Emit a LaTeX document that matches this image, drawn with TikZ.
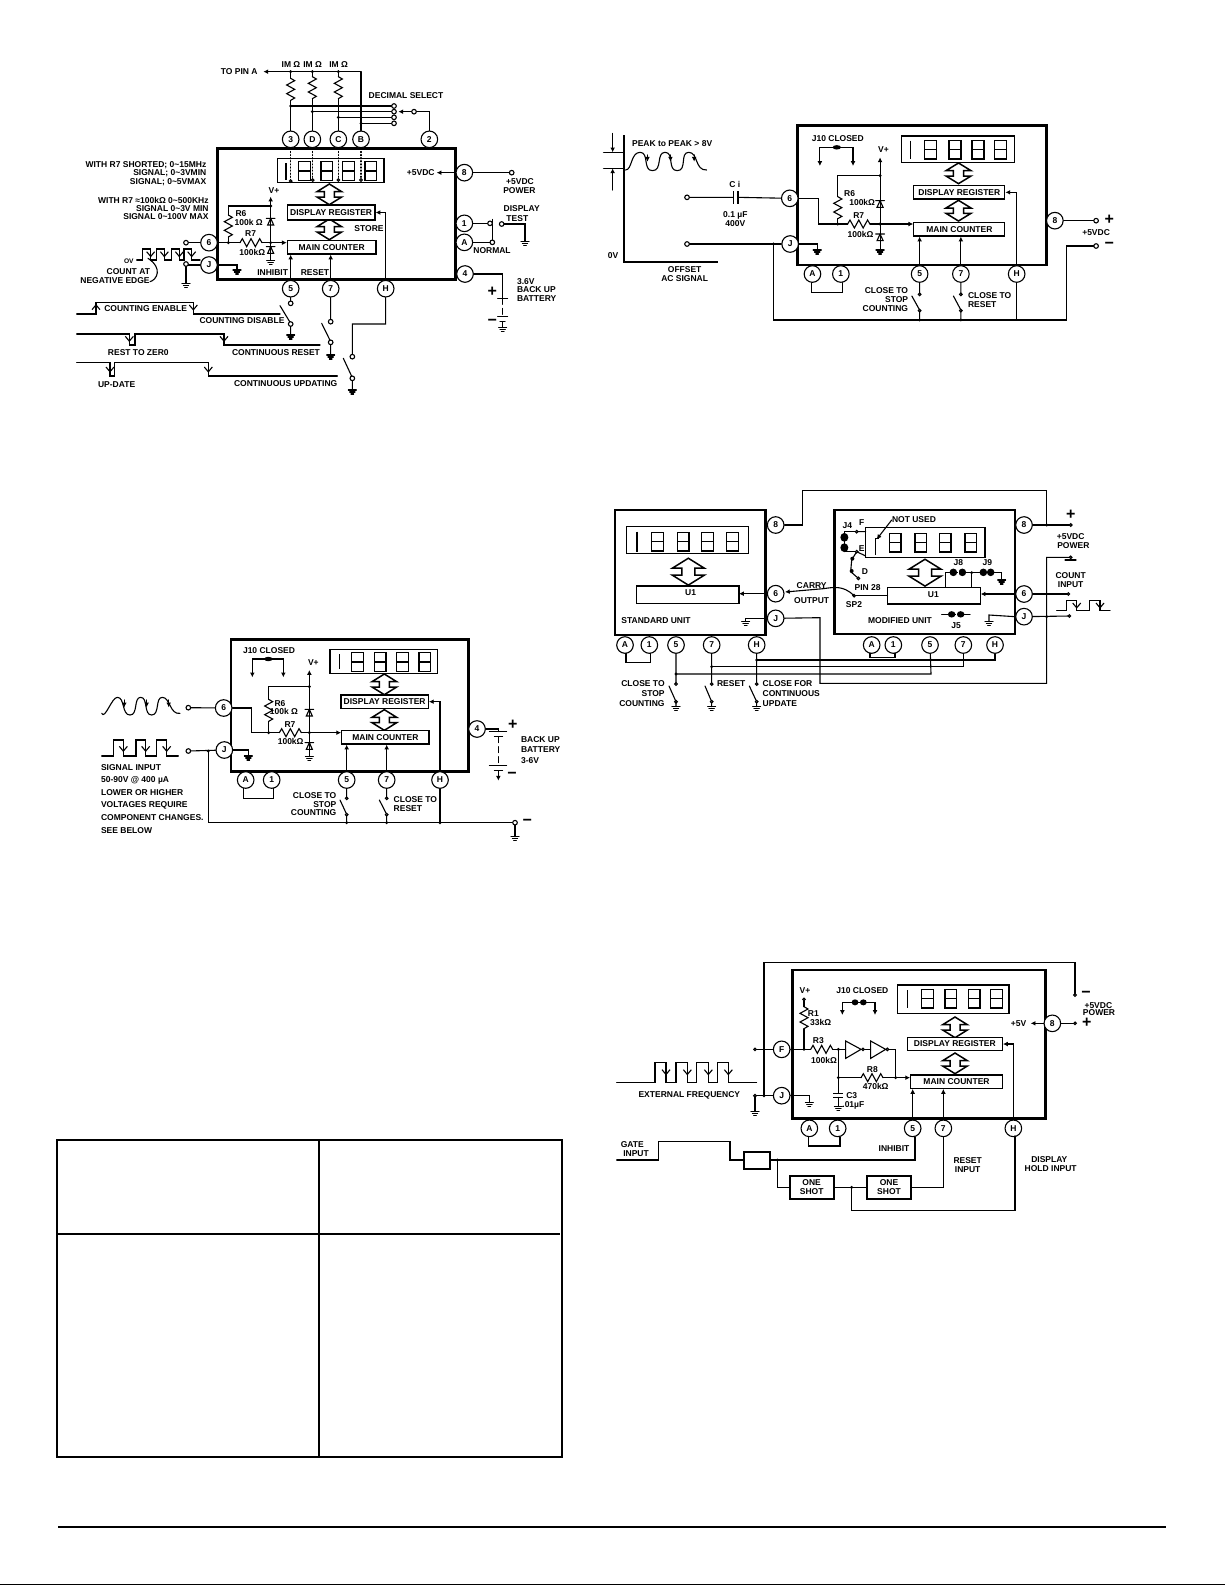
\documentclass[tikz,border=0pt]{standalone}
\usepackage{fontspec}
\setmainfont{Liberation Sans}
\usetikzlibrary{arrows.meta,fit}
\def\pdot(#1){\fill (#1) circle (0.8pt);}
\def\pterm(#1){\filldraw[wire,fill=white] (#1) circle (1.15pt);}
\def\psm(#1){\filldraw[wire,fill=white] (#1) circle (0.65pt);}
\def\pgnd(#1){\pic at (#1) {gndp};}
\def\prv(#1){\pic at (#1) {rvp};}
\def\prh(#1){\pic at (#1) {rhp};}
\def\pdio(#1){\pic at (#1) {diop};}
\def\pdbl(#1){\pic at (#1) {dblp};}
\def\pdig(#1){\pic at (#1) {digp};}
\def\pblob(#1){\fill (#1) ellipse (2.1pt and 1.1pt);}
\newcommand\bx[6]{\node[lbox,fit={(#2,#3)(#4,#5)}] (#1) {}; \node[txt] (#1t) at (#1.center) {#6};}
\tikzset{
  wire/.style={line width=0.55pt,line cap=round,line join=miter},
  arr/.style={wire,-{Latex[length=2.4pt,width=2.4pt]}},
  barb/.style={wire,-{Straight Barb[length=2.4pt,width=4pt]}},
  heavy/.style={line width=1.35pt},
  txt/.style={font=\fontsize{4.25}{4.5}\selectfont\bfseries,inner sep=0pt,align=center},
  txl/.style={txt,anchor=west,align=left},
  txr/.style={txt,anchor=east,align=right},
  pinc/.style={circle,draw,fill=white,line width=0.55pt,minimum size=8.3pt,inner sep=0pt,font=\fontsize{4.25}{4.5}\selectfont\bfseries},
  lbox/.style={draw,fill=white,line width=0.6pt,inner sep=0pt},
  gndp/.pic={\draw[wire] (-12,0)--(12,0) (-8,6)--(8,6) (-4,12)--(4,12);},
  rvp/.pic={\draw[wire] (0,0)--(12,7)--(-12,20)--(12,33)--(-12,46)--(12,59)--(0,66);},
  rhp/.pic={\draw[wire] (0,0)--(7,-12)--(20,12)--(33,-12)--(46,12)--(59,-12)--(66,0);},
  diop/.pic={\draw[wire] (-13,0)--(13,0) (0,0)--(-9,20)--(9,20)--cycle;},
  dblp/.pic={\filldraw[fill=white,line width=0.75pt] (0,-31)--(37,-8)--(15,-8)--(15,8)--(37,8)--(0,31)--(-37,8)--(-15,8)--(-15,-8)--(-37,-8)--cycle;},
  digp/.pic={\draw[line width=0.65pt] (0,0) rectangle (35,56) (0,28)--(35,28);},
  sc1/.style={x=0.16667pt,y=-0.16667pt},
  sc2/.style={x=0.16903pt,y=-0.16667pt}
}
\begin{document}
\begin{tikzpicture}[x=0.5pt,y=-0.5pt]
\useasboundingbox (0,0) rectangle (1225,1585);
\fill[white] (0,0) rectangle (1225,1585);
% ---------------- table and page rules
\draw[line width=1pt] (57,1140) rectangle (562,1457);
\draw[line width=1pt] (318.5,1140) -- (318.5,1457);
\draw[line width=1pt] (57,1234) -- (560,1234);
\draw[line width=1pt] (58,1527) -- (1166,1527);
\draw[line width=0.5pt] (0,1584.5) -- (1225,1584.5);
% ---------------- panel 1
\begin{scope}[shift={(60,50)},sc1]
\draw[heavy,fill=white] (473,295) rectangle (1187,688);
\node[pinc] (a3) at (692,268) {3};
\node[pinc] (aD) at (757,268) {D};
\node[pinc] (aC) at (835,268) {C};
\node[pinc] (aB) at (903,268) {B};
\node[pinc] (a2) at (1108,268) {2};
\node[pinc] (a8) at (1213,368) {8};
\node[pinc] (a1) at (1213,520) {1};
\node[pinc] (aA) at (1213,577) {A};
\node[pinc] (a4) at (1215,672) {4};
\node[pinc] (a6) at (447,578) {6};
\node[pinc] (aJ) at (447,645) {J};
\node[pinc] (a5) at (692,716) {5};
\node[pinc] (a7) at (812,716) {7};
\node[pinc] (aH) at (977,716) {H};
\draw[wire] (653,325) rectangle (972,398);
\draw[line width=0.65pt] (678,340)--(678,390);
\pdig(716,335)\pdig(783,335)\pdig(848,335)\pdig(915,335)
\draw[wire,densely dotted] (692,295)--(692,393) (757,295)--(757,390) (835,295)--(835,390) (903,295)--(903,390);
\psm(692,393)\psm(758,390)\psm(835,390)\psm(903,390)
\pdbl(808,433)\pdbl(808,538)
\bx{areg}{682}{465}{945}{510}{DISPLAY REGISTER}
\bx{amc}{682}{572}{948}{612}{MAIN COUNTER}
% top resistors
\node[txr] (apina) at (594,65) {TO PIN A};
\coordinate (abt) at (903,65);
\draw[arr] (abt) -- (610,65);
\node[txt] at (693,43) {IM Ω};
\node[txt] at (758,43) {IM Ω};
\node[txt] at (836,43) {IM Ω};
\draw[wire] (692,65)--(692,85) (692,151)--(a3);
\draw[wire] (757,65)--(757,80) (757,146)--(aD);
\draw[wire] (835,65)--(835,80) (835,146)--(aC);
\draw[wire] (abt)--(aB);
\prv(692,85)\prv(757,80)\prv(835,80)
\draw[wire] (692,168)--(1002,168) (757,185)--(1002,185) (835,202)--(1002,202) (903,220)--(1002,220);
\pdot(692,65)\pdot(757,65)\pdot(835,65)\pdot(692,168)\pdot(757,185)\pdot(835,202)\pdot(903,220)
\pterm(1002,168)\pterm(1002,185)\pterm(1002,202)\pterm(1002,220)
\node[txt] at (1038,138) {DECIMAL SELECT};
\coordinate (asel) at (1062,185);
\draw[arr] (asel) -- (1015,185);
\draw[wire] (asel) -| (a2);
\pterm(1062,185)
% input network
\node[txt] at (642,422) {V+};
\coordinate (avp) at (632,440);
\draw[arr] (632,630) -- (avp);
\pgnd(632,632)
\pdio(632,505)\pdio(632,590)
\draw[wire] (632,468) -| (505,495);
\prv(505,495)
\draw[wire] (505,561)--(505,578);
\draw[wire] (a6)--(540,578) (606,578)--(632,578);
\prh(540,578)
\draw[arr] (632,578)--(amc.west|-0,578);
\pdot(632,468)\pdot(632,578)\pdot(505,578)
\node[txt] at (543,490) {R6};
\node[txt] at (566,516) {100k Ω};
\node[txt] at (572,552) {R7};
\node[txt] at (577,606) {100kΩ};
\draw[wire] (aJ) -| (531,660);
\pgnd(531,660)
\draw[wire] (a6) -- (378,578);
\pterm(378,578)
\draw[wire] (aJ) -- (378,645) -- (378,700);
\pgnd(378,700)
\pterm(378,642)
\node[txr] at (222,633) {\fontsize{3.3}{3.5}\selectfont OV};
\draw[wire] (230,630)--(248,630)--(248,597)--(272,597)--(272,630)--(290,630)--(290,597)--(313,597)--(313,630)--(335,630)--(335,597)--(358,597)--(358,630)--(372,630)--(372,597)--(395,597)--(395,630)--(420,630);
\draw[barb] (272,600)--(272,622);
\draw[barb] (313,600)--(313,622);
\draw[barb] (358,600)--(358,622);
\draw[barb] (395,600)--(395,622);
\draw[wire] (264,625) .. controls (310,655) and (290,690) .. (270,695);
\node[txt] at (205,665) {COUNT AT};
\node[txt] at (165,692) {NEGATIVE EDGE};
\node[txr] at (440,345) {WITH R7 SHORTED; 0\textasciitilde15MHz};
\node[txr] at (440,371) {SIGNAL; 0\textasciitilde3VMIN};
\node[txr] at (440,396) {SIGNAL; 0\textasciitilde5VMAX};
\node[txr] at (447,450) {WITH R7 ≈100kΩ 0\textasciitilde500KHz};
\node[txr] at (447,475) {SIGNAL 0\textasciitilde3V MIN};
\node[txr] at (447,500) {SIGNAL 0\textasciitilde100V MAX};
% right side
\draw[arr] (a8) -- (1130,368);
\node[txr] at (1125,368) {+5VDC};
\coordinate (apw) at (1355,368);
\draw[wire] (a8)--(apw);
\pterm(1355,368)
\node[txt] at (1380,394) {+5VDC};
\node[txt] at (1378,421) {POWER};
\coordinate (at1) at (1290,520);
\coordinate (an) at (1297,577);
\draw[wire] (a1)--(at1);
\draw[wire] (aA)--(an);
\draw[wire] (1297,508)--(an);
\pterm(1290,520)\pterm(1297,577)
\coordinate (at2) at (1325,522);
\draw[wire] (at2) -| (1395,575);
\pterm(1325,522)
\pgnd(1395,575)
\node[txt] at (1385,475) {DISPLAY};
\node[txt] at (1372,506) {TEST};
\node[txt] at (1296,602) {NORMAL};
\draw[wire] (a4) -| (1328,745);
\draw[wire] (1313,745)--(1343,745) (1313,800)--(1343,800) (1320,815)--(1335,815);
\draw[wire,densely dashed] (1328,745)--(1328,800);
\draw[wire] (1328,815)--(1328,832);
\pgnd(1328,832)
\node[txt,font=\fontsize{8}{8}\selectfont\bfseries] at (1297,725) {+};
\node[txt,font=\fontsize{8}{8}\selectfont\bfseries] at (1297,818) {−};
\node[txl] at (1370,695) {3.6V};
\node[txl] at (1370,720) {BACK UP};
\node[txl] at (1370,745) {BATTERY};
% bottom
\draw[arr] (a5) -- (a5|-amc.south);
\draw[arr] (a7) -- (a7|-amc.south);
\draw[arr] (aH) |- (areg.east);
\node[txr] at (685,668) {INHIBIT};
\node[txt] at (765,668) {RESET};
\node[txt] at (927,535) {STORE};
\draw[wire] (a5)--(692,760) (660,767)--(692,820) (692,822)--(692,855);
\pterm(692,760)\pterm(692,822)\pgnd(692,855)
\draw[wire] (a7)--(812,815) (785,820)--(812,875) (812,877)--(812,915);
\pterm(812,815)\pterm(812,877)\pgnd(812,915)
\draw[wire] (aH)--(977,822)--(877,822)--(877,920) (850,925)--(877,983) (877,985)--(877,1020);
\pterm(877,920)\pterm(877,985)\pgnd(877,1020)
\draw[wire] (50,792)--(108,792)--(108,757)--(400,757)--(400,792)--(660,792);
\draw[barb] (108,785)--(108,762);
\draw[barb] (400,760)--(400,782);
\node[txt] at (257,775) {COUNTING ENABLE};
\node[txt] at (546,813) {COUNTING DISABLE};
\draw[wire] (50,852)--(208,852)--(208,885)--(225,885)--(225,852)--(492,852)--(492,885)--(780,885);
\draw[barb] (208,856)--(208,876);
\draw[barb] (492,856)--(492,876);
\node[txt] at (235,908) {REST TO ZER0};
\node[txt] at (648,908) {CONTINUOUS RESET};
\draw[wire] (50,938)--(150,938)--(150,978)--(163,978)--(163,938)--(445,938)--(445,978)--(832,978);
\draw[barb] (150,942)--(150,968);
\draw[barb] (445,942)--(445,968);
\node[txt] at (170,1003) {UP-DATE};
\node[txt] at (677,1000) {CONTINUOUS UPDATING};
\end{scope}
% ---------------- panel 2
\begin{scope}[shift={(590,110)},sc2]
\draw[heavy,fill=white] (614,47) rectangle (1350,465);
\node[pinc] (b6) at (591,265) {6};
\node[pinc] (bJ) at (592,402) {J};
\node[pinc] (b8) at (1375,332) {8};
\node[pinc] (bA) at (658,492) {A};
\node[pinc] (b1) at (742,492) {1};
\node[pinc] (b5) at (975,492) {5};
\node[pinc] (b7) at (1097,492) {7};
\node[pinc] (bH) at (1262,492) {H};
\draw[wire] (922,78) rectangle (1255,157);
\draw[line width=0.65pt] (948,92)--(948,147);
\pdig(990,91)\pdig(1062,91)\pdig(1130,91)\pdig(1197,91)
\pdbl(1090,190)\pdbl(1090,302)
\bx{breg}{958}{227}{1227}{267}{DISPLAY REGISTER}
\bx{bmc}{958}{338}{1227}{378}{MAIN COUNTER}
\node[txt] at (733,86) {J10 CLOSED};
\draw[arr] (730,112) -| (680,168);
\draw[arr] (730,112) -| (778,168);
\pblob(730,112)
\node[txt] at (868,120) {V+};
\coordinate (bvp) at (858,142);
\draw[arr] (858,420) -- (bvp);
\pgnd(858,420)
\pdio(858,272)\pdio(858,372)
\draw[wire] (858,197) -| (733,260);
\prv(733,260)
\draw[wire] (733,326)--(733,342);
\draw[wire] (b6) -- (677,265) -- (677,342) -- (762,342) (828,342)--(858,342);
\prh(762,342)
\draw[arr] (858,342) -- (bmc.west|-0,342);
\pdot(858,197)\pdot(858,342)\pdot(733,342)
\node[txt] at (768,250) {R6};
\node[txt] at (805,276) {100kΩ};
\node[txt] at (795,317) {R7};
\node[txt] at (800,372) {100kΩ};
\draw[wire] (bJ) -| (672,420);
\pgnd(672,420)
\coordinate (bi1) at (287,262);
\coordinate (bi2) at (287,402);
\draw[wire] (bi1)--(424,262) (438,262)--(b6);
\draw[line width=0.75pt] (424,243)--(424,281) (438,243)--(438,281);
\pterm(287,262)
\draw[wire] (bi2)--(bJ);
\pterm(287,402)
\pdot(543,402)
\node[txt] at (428,222) {C i};
\node[txt] at (430,315) {0.1 µF};
\node[txt] at (430,342) {400V};
\draw[line width=0.9pt] (100,75)--(100,455)--(378,455);
\draw[arr] (67,70)--(67,127);
\draw[arr] (67,240)--(67,175);
\draw[wire] (40,127)--(100,127) (40,175)--(100,175);
\draw[wire] (105,180) .. controls (125,180) and (120,127) .. (148,127) .. controls (176,127) and (155,182) .. (185,182) .. controls (215,182) and (195,127) .. (222,127) .. controls (250,127) and (228,182) .. (258,182) .. controls (288,182) and (265,127) .. (292,127) .. controls (320,127) and (310,182) .. (345,180);
\draw[arr] (170,135)--(170,155);
\draw[arr] (238,135)--(238,155);
\draw[arr] (308,135)--(308,155);
\node[txt] at (243,102) {PEAK to PEAK > 8V};
\node[txt] at (68,437) {0V};
\node[txt] at (280,480) {OFFSET};
\node[txt] at (280,507) {AC SIGNAL};
\draw[wire] (655,518)--(655,548)--(748,548)--(748,518);
\draw[arr] (b5) -- (b5|-bmc.south);
\draw[arr] (b7) -- (b7|-bmc.south);
\draw[arr] (bH) |- (breg.east);
\coordinate (bp) at (1497,332);
\coordinate (bm) at (1497,408);
\draw[wire] (b8)--(bp);
\draw[wire] (bm)--(1410,408)--(1410,630)--(543,630)--(543,402);
\pterm(1497,332)\pterm(1497,408)
\node[txt,font=\fontsize{8}{8}\selectfont\bfseries] at (1536,330) {+};
\node[txt,font=\fontsize{8}{8}\selectfont\bfseries] at (1536,406) {−};
\node[txt] at (1497,368) {+5VDC};
\draw[wire] (bH)--(1262,630);
\draw[wire] (b5)--(975,553) (952,558)--(975,600) (975,602)--(975,630);
\draw[wire] (b7)--(1097,553) (1075,558)--(1097,600) (1097,602)--(1097,630);
\psm(975,553)\psm(975,602)\psm(1097,553)\psm(1097,602)
\pdot(975,630)\pdot(1097,630)
\node[txr] at (942,543) {CLOSE TO};
\node[txr] at (942,570) {STOP};
\node[txr] at (942,596) {COUNTING};
\node[txl] at (1117,556) {CLOSE TO};
\node[txl] at (1117,584) {RESET};
\end{scope}
% ---------------- panel 3
\begin{scope}[shift={(80,620)},sc1]
\draw[heavy,fill=white] (453,58) rectangle (1165,455);
\node[pinc] (c6) at (431,264) {6};
\node[pinc] (cJ) at (433,390) {J};
\node[pinc] (c4) at (1191,327) {4};
\node[pinc] (cA) at (497,480) {A};
\node[pinc] (c1) at (575,480) {1};
\node[pinc] (c5) at (800,480) {5};
\node[pinc] (c7) at (920,480) {7};
\node[pinc] (cH) at (1080,480) {H};
\draw[wire] (750,88) rectangle (1073,160);
\draw[line width=0.65pt] (778,103)--(778,148);
\pdig(815,98)\pdig(883,98)\pdig(950,98)\pdig(1017,98)
\pdbl(913,193)\pdbl(913,300)
\bx{creg}{783}{225}{1045}{265}{DISPLAY REGISTER}
\bx{cmc}{785}{332}{1047}{372}{MAIN COUNTER}
\node[txt] at (567,92) {J10 CLOSED};
\draw[arr] (565,117) -| (517,172);
\draw[arr] (565,117) -| (610,172);
\pblob(565,117)
\node[txt] at (700,127) {V+};
\coordinate (cvp) at (688,150);
\draw[arr] (688,410) -- (cvp);
\pgnd(688,410)
\pdio(688,268)\pdio(688,368)
\draw[wire] (688,200) -| (566,238);
\prv(566,238)
\draw[wire] (566,304)--(566,338);
\draw[wire] (c6)--(515,264)--(515,338)--(598,338) (664,338)--(688,338);
\prh(598,338)
\draw[arr] (688,338)--(cmc.west|-0,338);
\pdot(688,200)\pdot(688,338)\pdot(566,338)
\node[txt] at (600,250) {R6};
\node[txt] at (612,275) {100k Ω};
\node[txt] at (630,314) {R7};
\node[txt] at (632,365) {100kΩ};
\draw[wire] (cJ) -| (505,408);
\pgnd(505,408)
\draw[wire] (c4) -- (1255,327) -- (1255,335);
\draw[wire] (1228,335)--(1280,335) (1243,350)--(1268,350) (1228,437)--(1280,437) (1243,452)--(1268,452);
\draw[wire,densely dashed] (1255,350)--(1255,437);
\draw[arr] (1255,452)--(1255,482);
\node[txt,font=\fontsize{8}{8}\selectfont\bfseries] at (1298,314) {+};
\node[txt,font=\fontsize{8}{8}\selectfont\bfseries] at (1296,466) {−};
\node[txl] at (1322,358) {BACK UP};
\node[txl] at (1322,390) {BATTERY};
\node[txl] at (1322,422) {3-6V};
\draw[wire] (65,280) .. controls (75,300) and (95,232) .. (112,232) .. controls (135,232) and (125,285) .. (150,285) .. controls (175,285) and (160,232) .. (182,232) .. controls (205,232) and (190,285) .. (215,285) .. controls (240,285) and (225,232) .. (247,232) .. controls (270,232) and (270,285) .. (300,280);
\draw[arr] (133,240)--(133,262);
\draw[arr] (200,240)--(200,262);
\draw[arr] (266,240)--(266,262);
\coordinate (ci1) at (325,263);
\coordinate (ci2) at (325,393);
\draw[wire] (ci1)--(c6);
\pterm(325,263)
\draw[wire] (ci2)--(cJ);
\pterm(325,393)
\draw[wire] (65,408)--(100,408)--(100,360)--(130,360)--(130,408)--(168,408)--(168,360)--(197,360)--(197,408)--(230,408)--(230,360)--(260,360)--(260,408)--(295,408);
\draw[barb] (130,370)--(130,396);
\draw[barb] (197,370)--(197,396);
\draw[barb] (260,370)--(260,396);
\node[txl] at (62,442) {SIGNAL INPUT};
\node[txl] at (62,480) {50-90V @ 400 µA};
\node[txl] at (62,518) {LOWER OR HIGHER};
\node[txl] at (62,556) {VOLTAGES REQUIRE};
\node[txl] at (62,594) {COMPONENT CHANGES.};
\node[txl] at (62,631) {SEE BELOW};
\coordinate (cgn) at (1305,608);
\draw[wire] (385,393)--(385,608)--(cgn);
\draw[wire] (cgn)--(1305,650);
\pterm(1305,608)\pgnd(1305,650)
\node[txt,font=\fontsize{8}{8}\selectfont\bfseries] at (1342,606) {−};
\pdot(385,393)\pdot(800,608)\pdot(920,608)\pdot(1080,608)
\draw[wire] (490,505)--(490,535)--(580,535)--(580,505);
\draw[arr] (c5) -- (c5|-cmc.south);
\draw[arr] (c7) -- (c7|-cmc.south);
\draw[arr] (cH) |- (creg.east);
\draw[wire] (cH)--(1080,608);
\draw[wire] (c5)--(800,535) (780,540)--(800,583) (800,585)--(800,608);
\draw[wire] (c7)--(920,535) (898,540)--(920,583) (920,585)--(920,608);
\psm(800,535)\psm(800,584)\psm(920,535)\psm(920,584)
\node[txr] at (770,528) {CLOSE TO};
\node[txr] at (770,553) {STOP};
\node[txr] at (770,578) {COUNTING};
\node[txl] at (940,540) {CLOSE TO};
\node[txl] at (940,565) {RESET};
\end{scope}
% ---------------- panel 4
\begin{scope}[shift={(600,480)},sc1]
\draw[heavy,fill=white] (45,90) rectangle (497,465);
\draw[heavy,fill=white] (703,90) rectangle (1245,462);
\node[pinc] (d8) at (527,135) {8};
\node[pinc] (d6) at (527,341) {6};
\node[pinc] (dJ) at (527,415) {J};
\node[pinc] (dA) at (75,495) {A};
\node[pinc] (d1) at (148,495) {1};
\node[pinc] (d5) at (228,495) {5};
\node[pinc] (d7) at (335,495) {7};
\node[pinc] (dH) at (470,495) {H};
\node[pinc] (e8) at (1272,135) {8};
\node[pinc] (e6) at (1272,342) {6};
\node[pinc] (eJ) at (1272,410) {J};
\node[pinc] (eA) at (815,495) {A};
\node[pinc] (e1) at (880,495) {1};
\node[pinc] (e5) at (990,495) {5};
\node[pinc] (e7) at (1090,495) {7};
\node[pinc] (eH) at (1185,495) {H};
% left unit
\draw[wire] (80,140) rectangle (445,220);
\draw[line width=0.9pt] (110,155)--(110,215);
\pdig(155,157)\pdig(232,157)\pdig(305,157)\pdig(380,157)
\pic[scale=1.3] at (265,275) {dblp};
\bx{du}{110}{318}{417}{370}{}
\node[txt] at (272,338) {U1};
\draw[arr] (d6) -- (417,341);
\node[txl] at (63,423) {STANDARD UNIT};
\draw[wire] (dJ) -| (437,425);
\pgnd(437,425)
\draw[wire] (78,520)--(78,547)--(152,547)--(152,520);
\draw[wire] (d8)--(607,135)--(607,32)--(1340,32)--(1340,135);
% right unit
\draw[wire] (797,142) rectangle (1155,232);
\draw[line width=0.7pt] (827,225)--(827,175)--(836,175);
\pdig(868,160)\pdig(945,160)\pdig(1018,160)\pdig(1095,160)
\pic[scale=1.3] at (975,278) {dblp};
\bx{eu}{863}{322}{1142}{372}{}
\node[txt] at (1000,343) {U1};
\draw[arr] (e6) -- (1142,342);
\node[txt] (enu) at (942,118) {NOT USED};
\draw[arr] (875,120)--(830,178);
\node[txt] at (785,128) {F};
\node[txt] at (785,205) {E};
\node[txt] at (795,275) {D};
\node[txt] at (742,138) {J4};
\draw[wire] (770,155)--(797,155) (770,215)--(797,228);
\draw[wire] (770,155)--(733,155)--(733,215)--(770,215);
\fill (733,172) ellipse (2pt and 2.2pt);
\fill (733,203) ellipse (2pt and 2.2pt);
\draw[wire] (770,215)--(755,240)--(752,275)--(775,295);
\fill (757,236) circle (1pt);
\fill (755,273) circle (1pt);
\psm(770,155)\psm(770,215)\psm(775,295)
\node[txt] at (1075,247) {J8};
\node[txt] at (1162,247) {J9};
\draw[wire] (1037,322)--(1037,278)--(1205,278)--(1205,300);
\draw[wire] (1115,278)--(1115,322);
\pgnd(1205,300)
\fill (1060,277) ellipse (1.9pt and 1.9pt);
\fill (1087,277) ellipse (1.9pt and 1.9pt);
\fill (1150,277) ellipse (1.9pt and 1.9pt);
\fill (1172,277) ellipse (1.9pt and 1.9pt);
\draw[white,line width=0.4pt] (1074,268)--(1074,286);
\pdot(1115,278)
\node[txt] at (803,323) {PIN 28};
\node[txt] at (762,373) {SP2};
\draw[wire] (762,347)--(863,347);
\psm(762,347)
\draw[arr] (762,347) .. controls (730,315) and (700,322) .. (670,326) -- (555,336);
\node[txt] at (635,318) {CARRY};
\node[txt] at (635,362) {OUTPUT};
\node[txt] at (900,423) {MODIFIED UNIT};
\draw[wire] (1025,403)--(1110,403);
\fill (1055,403) ellipse (1.9pt and 1.6pt);
\fill (1082,403) ellipse (1.9pt and 1.6pt);
\draw[white,line width=0.4pt] (1068,393)--(1068,413);
\node[txt] at (1068,437) {J5};
\draw[wire] (eJ.west)--(1167,405)--(1167,425);
\pgnd(1167,425)
\draw[wire] (810,520)--(810,533)--(885,533)--(885,520);
\coordinate (ep) at (1412,135);
\coordinate (em) at (1412,232);
\coordinate (ec) at (1405,342);
\coordinate (ecj) at (1408,408);
\draw[wire] (e8)--(ep);
\psm(1412,135)
\pdot(1340,135)
\draw[wire] (em)--(1340,232)--(1340,610)--(660,610)--(660,413)--(dJ);
\draw[wire] (e6)--(ec);
\draw[wire] (eJ)--(ecj);
\psm(1405,342)\psm(1408,408)\pdot(1340,410)
\draw[wire] (1395,240)--(1428,240);
\psm(1412,232)
\node[txt,font=\fontsize{8}{8}\selectfont\bfseries] at (1412,105) {+};
\node[txt] at (1412,170) {+5VDC};
\node[txt] at (1420,197) {POWER};
\node[txt] at (1412,287) {COUNT};
\node[txt] at (1412,315) {INPUT};
\draw[wire] (1370,392)--(1400,392)--(1400,362)--(1430,362)--(1430,392)--(1468,392)--(1468,362)--(1500,362)--(1500,392)--(1530,392);
\draw[barb] (1430,366)--(1430,386);
\draw[barb] (1500,366)--(1500,386);
% bottom busses
\draw[wire] (470,540)--(1185,540)--(eH);
\draw[wire] (335,560)--(1090,560)--(e7);
\draw[wire] (228,582)--(993,582)--(e5);
\pdot(470,540)\pdot(335,560)\pdot(228,582)
\draw[wire] (d5)--(228,612) (207,618)--(228,665) (228,665)--(228,680);
\draw[wire] (d7)--(335,612) (315,618)--(335,665) (335,665)--(335,680);
\draw[wire] (dH)--(470,612) (448,618)--(470,665) (470,665)--(470,680);
\psm(228,612)\psm(335,612)\psm(470,612)\psm(228,665)\psm(335,665)\psm(470,665)
\pgnd(228,680)\pgnd(335,680)\pgnd(470,680)
\node[txr] at (195,612) {CLOSE TO};
\node[txr] at (195,642) {STOP};
\node[txr] at (195,672) {COUNTING};
\node[txl] at (350,612) {RESET};
\node[txl] at (487,612) {CLOSE FOR};
\node[txl] at (487,642) {CONTINUOUS};
\node[txl] at (487,672) {UPDATE};
\end{scope}
% ---------------- panel 5
\begin{scope}[shift={(600,950)},sc1]
\draw[heavy,fill=white] (578,60) rectangle (1337,505);
\node[pinc] (fF) at (545,298) {F};
\node[pinc] (fJ) at (545,437) {J};
\node[pinc] (f8) at (1357,220) {8};
\node[pinc] (fA) at (628,535) {A};
\node[pinc] (f1) at (713,535) {1};
\node[pinc] (f5) at (938,535) {5};
\node[pinc] (f7) at (1030,535) {7};
\node[pinc] (fH) at (1240,535) {H};
\draw[wire] (893,105) rectangle (1227,190);
\draw[line width=0.65pt] (922,120)--(922,175);
\pdig(965,118)\pdig(1035,118)\pdig(1105,118)\pdig(1172,118)
\pdbl(1065,232)\pdbl(1065,340)
\bx{freg}{922}{262}{1207}{302}{DISPLAY REGISTER}
\bx{fmc}{932}{375}{1207}{415}{MAIN COUNTER}
\node[txt] at (787,123) {J10 CLOSED};
\draw[arr] (777,157) -| (727,195);
\draw[arr] (777,157) -| (825,195);
\fill (765,157) ellipse (1.7pt and 1.5pt);
\fill (790,157) ellipse (1.7pt and 1.5pt);
\node[txt] at (615,123) {V+};
\draw[wire] (612,148)--(612,170) (612,236)--(612,298);
\prv(612,170)
\psm(612,148)
\node[txt] at (640,190) {R1};
\node[txt] at (662,216) {33kΩ};
\draw[wire] (fF)--(632,298) (698,298)--(737,298);
\prh(632,298)
\draw[wire] (737,273)--(737,325)--(783,298)--cycle;
\draw[wire] (812,273)--(812,325)--(857,298)--cycle;
\draw[wire] (794,298)--(812,298) (868,298)--(887,298)--(887,383);
\psm(789,298)\psm(862,298)
\draw[wire] (715,298)--(715,430) (715,383)--(783,383) (849,383)--(887,383);
\prh(783,383)
\draw[arr] (887,383)--(fmc.west|-0,383);
\draw[line width=0.6pt] (700,430)--(730,430) (700,442)--(730,442);
\draw[wire] (715,442)--(715,470);
\pgnd(715,470)
\pdot(612,298)\pdot(715,298)\pdot(715,383)\pdot(887,383)
\node[txt] at (655,272) {R3};
\node[txt] at (672,332) {100kΩ};
\node[txt] at (817,358) {R8};
\node[txt] at (827,410) {470kΩ};
\node[txt] at (755,436) {C3};
\node[txt] at (760,466) {.01µF};
\draw[wire] (fJ) -| (628,458);
\pgnd(628,458)
\coordinate (fi1) at (465,298);
\coordinate (fi2) at (465,437);
\draw[wire] (fi1)--(fF);
\draw[wire] (fi2)--(fJ);
\draw[wire] (fi2)--(465,485);
\psm(465,298)\psm(465,437)
\pgnd(465,485)
\pdot(492,437)
\coordinate (fm) at (1425,135);
\coordinate (fp) at (1425,220);
\draw[wire] (492,437)--(492,38)--(1425,38)--(fm);
\draw[wire] (f8)--(fp);
\psm(1425,135)\psm(1425,220)
\draw[arr] (f8)--(1292,220);
\node[txr] at (1280,222) {+5V};
\node[txt,font=\fontsize{8}{8}\selectfont\bfseries] at (1458,133) {−};
\node[txt,font=\fontsize{8}{8}\selectfont\bfseries] at (1460,219) {+};
\node[txt] at (1495,167) {+5VDC};
\node[txt] at (1497,188) {POWER};
\draw[wire] (50,397)--(165,397)--(165,338)--(198,338)--(198,397)--(228,397)--(228,338)--(262,338)--(262,397)--(290,397)--(290,338)--(325,338)--(325,397)--(352,397)--(352,338)--(385,338)--(385,397)--(470,397);
\draw[barb] (198,342)--(198,376);
\draw[barb] (262,342)--(262,376);
\draw[barb] (325,342)--(325,376);
\draw[barb] (385,342)--(385,376);
\node[txt] at (268,435) {EXTERNAL FREQUENCY};
\draw[wire] (625,560)--(625,588)--(720,588)--(720,560);
\draw[arr] (f5) -- (f5|-fmc.south);
\draw[arr] (f7) -- (f7|-fmc.south);
\draw[arr] (fH) |- (freg.east);
\node[draw,fill=white,line width=1pt,inner sep=0pt,minimum width=13pt,minimum height=8.5pt] (fg) at (471,630) {};
\node[draw,fill=white,line width=1pt,font=\fontsize{4.25}{4.7}\selectfont\bfseries,align=center,inner sep=0pt,minimum width=22pt,minimum height=11.5pt] (fo1) at (635,712) {ONE\\SHOT};
\node[draw,fill=white,line width=1pt,font=\fontsize{4.25}{4.7}\selectfont\bfseries,align=center,inner sep=0pt,minimum width=22pt,minimum height=11.5pt] (fo2) at (867,712) {ONE\\SHOT};
\draw[wire] (50,630)--(175,630)--(175,575)--(390,575)--(390,630)--(fg);
\draw[wire] (fg)--(945,630)--(945,560);
\draw[wire] (532,630)--(532,712)--(fo1);
\draw[wire] (fo1)--(fo2);
\draw[wire] (fo2)--(1030,712)--(f7);
\draw[wire] (755,712)--(755,782)--(1245,782)--(1245,558);
\pdot(532,630)\pdot(755,712)
\node[txt] at (97,585) {GATE};
\node[txt] at (108,612) {INPUT};
\node[txt] at (882,597) {INHIBIT};
\node[txt] at (1103,632) {RESET};
\node[txt] at (1103,658) {INPUT};
\node[txt] at (1348,628) {DISPLAY};
\node[txt] at (1352,655) {HOLD INPUT};
\end{scope}
\end{tikzpicture}
\end{document}
